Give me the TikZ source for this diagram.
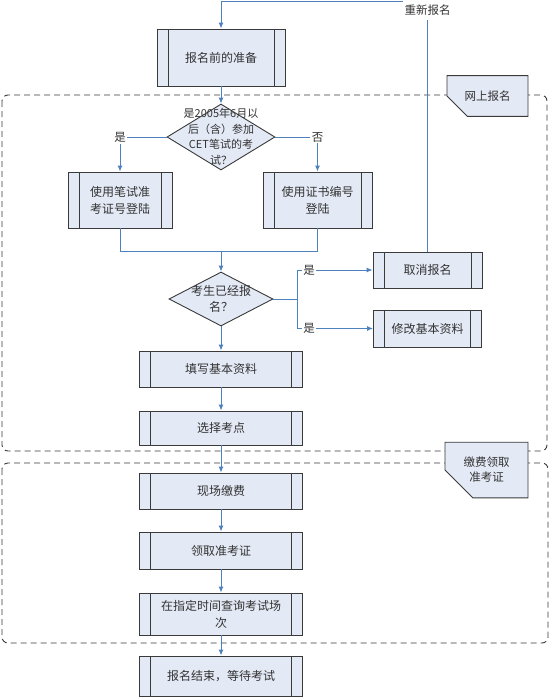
\documentclass[tikz,border=0pt]{standalone}
\usepackage{fontspec}
\newfontfamily\cjk{Noto Sans CJK SC}
\usepackage{xcolor}
\usepackage{tikz}
\usetikzlibrary{shapes,arrows.meta,positioning,calc}

\definecolor{flowblue}{HTML}{4F81BD}
\definecolor{boxfill}{HTML}{E3E9F5}
\definecolor{boxline}{HTML}{3A3A3A}
\definecolor{txtgray}{HTML}{333333}

\tikzset{
  proc/.style={draw=boxline, fill=boxfill, line width=0.9pt, inner sep=0pt, align=center,
    text=txtgray, font=\cjk\fontsize{12}{17}\selectfont,
    path picture={
      \draw[boxline, line width=0.9pt]
        ([xshift=11pt]path picture bounding box.north west) -- ([xshift=11pt]path picture bounding box.south west)
        ([xshift=-11pt]path picture bounding box.north east) -- ([xshift=-11pt]path picture bounding box.south east);
    }},
  decision/.style={diamond, draw=boxline, fill=boxfill, line width=0.9pt, inner sep=0pt},
  qtext/.style={align=center, text=txtgray, inner sep=0pt},
  flow/.style={draw=flowblue, line width=1pt, -{Latex[length=6pt,width=5pt]}},
  link/.style={draw=flowblue, line width=1pt},
  yes/.style={fill=white, inner sep=1.5pt, text=txtgray, font=\cjk\fontsize{11.5}{13}\selectfont},
  group/.style={draw=boxline, dash pattern=on 6pt off 4pt, line width=0.9pt, rounded corners=6pt},
  tag/.style={chamfered rectangle, chamfered rectangle corners=south west,
    chamfered rectangle xsep=17pt, chamfered rectangle ysep=15pt,
    draw=boxline, fill=boxfill, line width=0.9pt, inner sep=0pt, align=center,
    text=txtgray, font=\cjk\fontsize{11.5}{15}\selectfont}
}

\begin{document}
\begin{tikzpicture}[x=1pt, y=-1pt]
  \useasboundingbox (0,0) rectangle (550,697);

  % Groups
  \draw[group] (2,95) rectangle (547,451);
  \draw[group] (2,463) rectangle (548,643);
  \node[tag, minimum width=81pt, minimum height=28pt] (online) at (487.5,96) {网上报名};
  \node[tag, minimum width=83pt, minimum height=30pt] (onsite) at (486.5,470) {缴费领取\\准考证};

  % Steps
  \node[proc, minimum width=128pt, minimum height=57pt] (prep) at (221,57.5) {报名前的准备};
  \node[decision, minimum width=108pt, minimum height=66pt] (q1) at (221,137) {};
  \node[qtext, font=\cjk\fontsize{11}{15.5}\selectfont] (q1text) at (q1) {是2005年6月以\\后（含）参加\\CET笔试的考\\试？};
  \node[proc, minimum width=104pt, minimum height=56pt] (left) at (120,200) {使用笔试准\\考证号登陆};
  \node[proc, minimum width=109pt, minimum height=56pt] (right) at (317.5,200) {使用证书编号\\登陆};
  \node[decision, minimum width=104pt, minimum height=54pt] (q2) at (221,299) {};
  \node[qtext, font=\cjk\fontsize{12}{16}\selectfont] (q2text) at (q2) {考生已经报\\名？};
  \node[proc, minimum width=109pt, minimum height=36pt] (cancel) at (427.5,270) {取消报名};
  \node[proc, minimum width=108pt, minimum height=37pt] (modify) at (427.5,328.5) {修改基本资料};
  \node[proc, minimum width=163pt, minimum height=36pt] (fillin) at (221,369) {填写基本资料};
  \node[proc, minimum width=163pt, minimum height=34pt] (choose) at (221,428) {选择考点};
  \node[proc, minimum width=163pt, minimum height=36pt] (pay) at (221,491) {现场缴费};
  \node[proc, minimum width=163pt, minimum height=37pt] (get) at (221,550.5) {领取准考证};
  \node[proc, minimum width=163pt, minimum height=42pt] (query) at (221,614) {在指定时间查询考试场\\次};
  \node[proc, minimum width=163pt, minimum height=40pt] (finish) at (221,676) {报名结束，等待考试};

  % Back to the start
  \coordinate (ret) at (427.5,1);
  \draw[flow] (cancel.north) -- (cancel.north |- ret) -| (prep.north);
  \node[yes, minimum height=20pt] (redo) at (427.5,10) {重新报名};

  % First decision
  \draw[flow] (prep.south) -- (q1.north);
  \draw[flow] (q1.west) -| node[yes] {是} (left.north);
  \draw[flow] (q1.east) -| node[yes] {否} (right.north);
  \coordinate (join) at (221,251);
  \draw[link] (left.south) |- (join);
  \draw[link] (right.south) |- (join);
  \draw[flow] (join) -- (q2.north);

  % Second decision
  \coordinate (fork) at (297,299);
  \draw[link] (q2.east) -- (fork);
  \draw[flow] (fork) |- node[yes, pos=0.58] {是} (cancel.west);
  \draw[flow] (fork) |- node[yes, pos=0.58] {是} (modify.west);

  % Main line
  \draw[flow] (q2.south) -- (fillin.north);
  \foreach \a/\b in {fillin/choose, choose/pay, pay/get, get/query, query/finish}
    \draw[flow] (\a.south) -- (\b.north);
\end{tikzpicture}
\end{document}
